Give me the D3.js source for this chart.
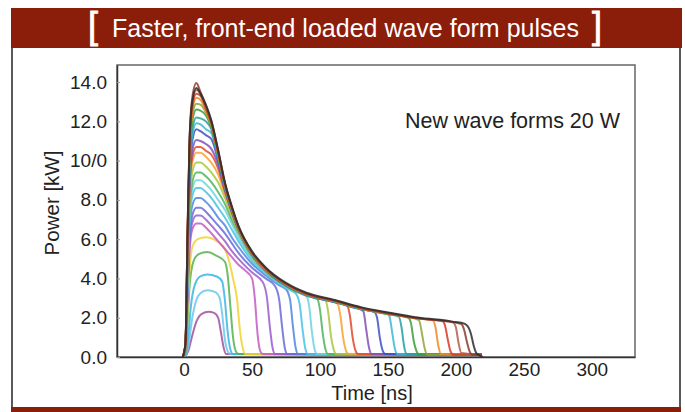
<!DOCTYPE html>
<html>
<head>
<meta charset="utf-8">
<script src="https://cdn.jsdelivr.net/npm/d3@7.9.0/dist/d3.min.js"></script>
<style>
  body { margin: 0; background: #fff; }
  svg { display: block; font-family: "Liberation Sans", Arial, sans-serif; }
</style>
</head>
<body>
<div id="vis"></div>
<script>
const width = 685;
const height = 412;
const plot = { left: 117, right: 635, top: 65, bottom: 357 };

const title = "Faster, front-end loaded wave form pulses";
const note = "New wave forms 20 W";
const xLabel = "Time [ns]";
const yLabel = "Power [kW]";

const xTicks = [0, 50, 100, 150, 200, 250, 300];
const yTicks = [0, 2, 4, 6, 8, 10, 12, 14];
const yTickLabels = ["0.0", "2.0", "4.0", "6.0", "8.0", "10/0", "12.0", "14.0"];

// one colour per pulse, shortest pulse first
const pulseColors = [
  "#a0509c", "#6cc6ec", "#3cb4e4", "#55b24f", "#f2d130", "#c45ac4",
  "#9a5ccc", "#6a6ad8", "#4f86e2", "#48c2e6", "#70d2dc", "#4fb45c",
  "#a8c640", "#f4a532", "#e2482e", "#8250b8", "#3e50c6", "#3cb8d4",
  "#26a0a0", "#3a9e3a", "#92a436", "#f08a22", "#d83a24", "#b06048",
  "#8c3a2c", "#2e2e2e"
];

// [time ns, power kW]
const pulses = [
  [[-1,0],[1,0.05],[3,0.3],[6,1.1],[9,1.8],[13,2.2],[18,2.3],[22,2.25],[25,2.0],[27,1.3],[29,0.5],[31,0.15],[219,0.12]],
  [[-1,0],[1,0.05],[3,0.5],[6,2.0],[9,2.9],[12,3.25],[17,3.4],[23,3.3],[26,3.05],[28,2.2],[30,0.9],[32,0.3],[34,0.15],[219,0.12]],
  [[-1,0],[1,0.1],[3,1.0],[5,2.6],[8,3.7],[12,4.1],[17,4.2],[24,4.1],[28,3.85],[30,2.9],[32,1.3],[34,0.4],[36,0.15],[219,0.12]],
  [[-1,0],[1,0.2],[2.5,1.8],[4,3.6],[7,4.9],[11,5.25],[17,5.35],[24,5.15],[30,4.85],[32,4.2],[34,2.6],[36,1.0],[38,0.3],[40,0.15],[219,0.12]],
  [[-1,0],[1,0.3],[2.5,2.4],[4,4.4],[6,5.6],[10,6.0],[16,6.1],[24,5.9],[30,5.5],[33,4.9],[36,4.0],[39,2.9],[41,1.4],[43,0.5],[45,0.15],[219,0.12]],
  [[-1,0],[1,0.4],[2.5,3.1],[4,5.4],[6,6.5],[9,6.8],[12,6.8],[16,6.6],[20,6.3],[25,5.9],[30,5.5],[35,5.1],[40,4.7],[45,4.4],[50,4.0],[52,3.0],[54,1.2],[56,0.3],[58,0.15],[219,0.12]],
  [[-1,0],[1,0.4],[2.5,3.2],[4,5.8],[6,6.85],[9,7.2],[12,7.2],[16,7.0],[20,6.7],[25,6.3],[30,5.9],[35,5.4],[40,5.0],[50,4.3],[58,3.8],[61,3.0],[63,1.6],[65,0.5],[67,0.15],[219,0.12]],
  [[-1,0],[1,0.4],[2.5,3.4],[4,6.1],[6,7.2],[9,7.6],[12,7.6],[16,7.4],[20,7.1],[25,6.7],[30,6.3],[35,5.8],[40,5.3],[50,4.55],[60,4.0],[67,3.6],[70,2.9],[72,1.6],[74,0.5],[76,0.15],[219,0.12]],
  [[-1,0],[1,0.4],[2.5,3.6],[4,6.5],[6,7.7],[9,8.1],[12,8.1],[16,7.9],[20,7.6],[25,7.1],[30,6.7],[35,6.1],[40,5.6],[50,4.75],[60,4.15],[70,3.65],[75,3.45],[78,2.9],[80,1.6],[82,0.5],[84,0.15],[219,0.12]],
  [[-1,0],[1,0.45],[2.5,3.9],[4,6.9],[6,8.2],[9,8.6],[12,8.6],[16,8.4],[20,8.1],[25,7.6],[30,7.1],[35,6.5],[40,5.9],[50,4.9],[60,4.25],[75,3.5],[82,3.25],[85,2.7],[87,1.5],[89,0.5],[91,0.15],[219,0.12]],
  [[-1,0],[1,0.45],[2.5,4.0],[4,7.2],[6,8.55],[9,9.0],[12,9.0],[16,8.8],[20,8.5],[25,8.0],[30,7.5],[35,6.8],[40,6.1],[50,5.0],[60,4.3],[75,3.55],[90,3.1],[92,2.6],[94,1.3],[96,0.4],[98,0.15],[219,0.12]],
  [[-1,0],[1,0.5],[2.5,4.2],[4,7.5],[6,8.9],[9,9.4],[12,9.4],[16,9.2],[20,8.9],[25,8.4],[30,7.8],[35,7.0],[40,6.3],[50,5.1],[60,4.35],[75,3.6],[90,3.12],[98,2.95],[100,2.4],[102,1.2],[104,0.4],[106,0.15],[219,0.12]],
  [[-1,0],[1,0.5],[2.5,4.5],[4,7.9],[6,9.4],[9,9.9],[12,9.9],[16,9.7],[20,9.4],[25,8.9],[30,8.1],[35,7.2],[40,6.4],[50,5.15],[60,4.4],[75,3.62],[90,3.14],[104,2.88],[106,2.3],[108,1.1],[110,0.4],[112,0.15],[219,0.12]],
  [[-1,0],[1,0.5],[2.5,4.7],[4,8.3],[6,9.9],[9,10.4],[12,10.4],[16,10.2],[20,9.9],[25,9.3],[30,8.3],[35,7.35],[40,6.45],[50,5.2],[60,4.42],[75,3.65],[90,3.16],[110,2.82],[113,2.7],[115,2.1],[117,1.0],[119,0.35],[121,0.15],[219,0.12]],
  [[-1,0],[1,0.55],[2.5,4.8],[4,8.6],[6,10.2],[9,10.7],[12,10.7],[16,10.5],[20,10.3],[25,9.6],[30,8.45],[35,7.4],[40,6.5],[50,5.22],[60,4.44],[75,3.66],[90,3.17],[110,2.83],[120,2.62],[122,2.1],[124,1.0],[126,0.35],[128,0.15],[219,0.12]],
  [[-1,0],[1,0.55],[2.5,5.0],[4,8.8],[6,10.5],[9,11.05],[12,11.0],[16,10.85],[20,10.6],[25,9.8],[30,8.5],[35,7.4],[40,6.48],[50,5.2],[60,4.42],[75,3.63],[90,3.14],[110,2.8],[130,2.42],[132,2.3],[134,1.4],[136,0.5],[138,0.15],[219,0.12]],
  [[-1,0],[1,0.6],[2.5,5.2],[4,9.3],[6,11.0],[9,11.6],[12,11.5],[16,11.3],[20,11.1],[25,10.0],[30,8.6],[35,7.45],[40,6.5],[50,5.22],[60,4.44],[75,3.65],[90,3.15],[110,2.81],[130,2.43],[140,2.29],[142,2.0],[144,1.0],[146,0.35],[148,0.15],[219,0.12]],
  [[-1,0],[1,0.6],[2.5,5.4],[4,9.5],[6,11.3],[9,11.9],[12,11.85],[16,11.6],[20,11.4],[25,10.15],[30,8.65],[35,7.5],[40,6.52],[50,5.23],[60,4.45],[75,3.66],[90,3.16],[110,2.82],[130,2.44],[150,2.17],[151,2.1],[153,1.3],[155,0.45],[157,0.15],[219,0.12]],
  [[-1,0],[1,0.6],[2.5,5.5],[4,9.8],[6,11.6],[9,12.2],[12,12.15],[16,12.0],[20,11.6],[25,10.2],[30,8.7],[35,7.52],[40,6.54],[50,5.25],[60,4.46],[75,3.67],[90,3.17],[110,2.83],[130,2.45],[150,2.18],[158,2.06],[160,1.5],[162,0.5],[164,0.15],[219,0.12]],
  [[-1,0],[1,0.65],[2.5,5.7],[4,10.1],[6,12.0],[9,12.6],[12,12.55],[16,12.3],[20,11.7],[25,10.25],[30,8.72],[35,7.55],[40,6.56],[50,5.27],[60,4.47],[75,3.68],[90,3.18],[110,2.84],[130,2.46],[150,2.19],[165,2.0],[167,1.7],[169,0.8],[171,0.3],[173,0.12],[219,0.12]],
  [[-1,0],[1,0.65],[2.5,5.8],[4,10.3],[6,12.3],[9,12.9],[12,12.85],[16,12.45],[20,11.8],[25,10.3],[30,8.75],[35,7.57],[40,6.58],[50,5.28],[60,4.48],[75,3.69],[90,3.19],[110,2.85],[130,2.47],[150,2.2],[170,1.96],[173,1.85],[175,1.2],[177,0.45],[179,0.12],[219,0.12]],
  [[-1,0],[1,0.65],[2.5,5.9],[4,10.6],[6,12.5],[9,13.2],[12,13.1],[16,12.55],[20,11.85],[25,10.35],[30,8.78],[35,7.58],[40,6.59],[50,5.29],[60,4.49],[75,3.7],[90,3.2],[110,2.86],[130,2.48],[150,2.21],[170,1.97],[183,1.87],[185,1.5],[187,0.6],[189,0.15],[219,0.12]],
  [[-1,0],[1,0.7],[2.5,6.0],[4,10.7],[6,12.7],[9,13.4],[12,13.3],[16,12.65],[20,11.9],[25,10.4],[30,8.8],[35,7.6],[40,6.6],[50,5.3],[60,4.5],[75,3.71],[90,3.21],[110,2.87],[130,2.49],[150,2.22],[170,1.98],[190,1.83],[192,1.6],[194,0.9],[196,0.3],[198,0.12],[219,0.12]],
  [[-1,0],[1,0.7],[2.5,6.1],[4,10.9],[6,12.9],[9,13.6],[12,13.45],[16,12.7],[20,11.95],[25,10.45],[30,8.82],[35,7.62],[40,6.62],[50,5.32],[60,4.51],[75,3.72],[90,3.22],[110,2.88],[130,2.5],[150,2.23],[170,1.99],[190,1.84],[198,1.76],[200,1.5],[202,0.7],[204,0.2],[219,0.12]],
  [[-1,0],[1,0.7],[2.5,6.3],[4,11.1],[6,13.2],[9,13.95],[12,13.5],[16,12.8],[20,12.0],[25,10.5],[30,8.85],[35,7.65],[40,6.64],[50,5.34],[60,4.52],[75,3.73],[90,3.23],[110,2.89],[130,2.51],[150,2.24],[170,2.0],[190,1.85],[200,1.75],[204,1.68],[206,1.4],[208,0.8],[210,0.3],[212,0.12],[219,0.12]],
  [[-1,0],[1,0.7],[2.5,6.2],[4,11.0],[6,13.0],[9,13.7],[12,13.4],[16,12.85],[20,12.05],[25,10.55],[30,8.9],[35,7.7],[40,6.68],[50,5.38],[60,4.56],[75,3.77],[90,3.27],[110,2.92],[130,2.54],[150,2.27],[170,2.03],[190,1.88],[200,1.78],[204,1.74],[208,1.62],[211,1.2],[213,0.6],[215,0.2],[217,0.1],[220,0]]
];

const xScale = d3.scaleLinear().domain([-49.4, 331.8]).range([plot.left, plot.right]);
const yScale = d3.scaleLinear().domain([0, 14.87]).range([plot.bottom, plot.top]);

const svg = d3
  .select("#vis")
  .append("svg")
  .attr("width", width)
  .attr("height", height);

// Header bar
svg.append("rect")
  .attr("x", 11).attr("y", 8)
  .attr("width", 671).attr("height", 40)
  .attr("fill", "#8b1d0b");

svg.append("text")
  .attr("x", 112).attr("y", 37)
  .attr("fill", "#fff")
  .attr("font-size", 25)
  .text(title);

svg.append("text")
  .attr("x", 88).attr("y", 38)
  .attr("fill", "#fff")
  .attr("font-size", 36)
  .attr("stroke", "#fff")
  .attr("stroke-width", 0.8)
  .text("[");
svg.append("text")
  .attr("x", 592).attr("y", 38)
  .attr("fill", "#fff")
  .attr("font-size", 36)
  .attr("stroke", "#fff")
  .attr("stroke-width", 0.8)
  .text("]");

// Frame sides and footer stripe
svg.append("line")
  .attr("x1", 12).attr("x2", 12).attr("y1", 48).attr("y2", 408)
  .attr("stroke", "#222").attr("stroke-width", 1.5);
svg.append("line")
  .attr("x1", 680).attr("x2", 680).attr("y1", 48).attr("y2", 408)
  .attr("stroke", "#222").attr("stroke-width", 1.5);
svg.append("rect")
  .attr("x", 11).attr("y", 407)
  .attr("width", 670).attr("height", 5)
  .attr("fill", "#8b1d0b");

// Plot box
svg.append("rect")
  .attr("x", plot.left).attr("y", plot.top)
  .attr("width", plot.right - plot.left)
  .attr("height", plot.bottom - plot.top)
  .attr("fill", "#fff")
  .attr("stroke", "#666")
  .attr("stroke-width", 1.5);

// Pulses
const line = d3
  .line()
  .x((d) => xScale(d[0]))
  .y((d) => yScale(d[1]))
  .curve(d3.curveMonotoneX);

svg.append("g")
  .attr("id", "pulses")
  .selectAll("path")
  .data(pulses)
  .enter()
  .append("path")
  .attr("fill", "none")
  .attr("stroke", (d, i) => pulseColors[i])
  .attr("stroke-width", 2)
  .attr("stroke-opacity", 0.85)
  .attr("stroke-linejoin", "round")
  .attr("d", line);

// Axes
const xAxis = svg.append("g")
  .attr("transform", `translate(0,${plot.bottom})`)
  .call(d3.axisBottom(xScale).tickValues(xTicks).tickSize(0).tickPadding(6));
xAxis.select(".domain").attr("stroke", "#333").attr("stroke-width", 1.5);
xAxis.selectAll("text").attr("font-size", 19).attr("fill", "#222")
  .attr("font-family", "Liberation Sans, Arial, sans-serif");

const yAxis = svg.append("g")
  .attr("transform", `translate(${plot.left},0)`)
  .call(
    d3.axisLeft(yScale)
      .tickValues(yTicks)
      .tickFormat((d, i) => yTickLabels[i])
      .tickSizeInner(-3)
      .tickSizeOuter(0)
      .tickPadding(10)
  );
yAxis.select(".domain").attr("stroke", "#333").attr("stroke-width", 1.5);
yAxis.selectAll(".tick line").attr("stroke", "#999");
yAxis.selectAll("text").attr("font-size", 19).attr("fill", "#222")
  .attr("font-family", "Liberation Sans, Arial, sans-serif");

// Labels
svg.append("text")
  .attr("x", 372).attr("y", 400)
  .attr("text-anchor", "middle")
  .attr("font-size", 20)
  .attr("fill", "#222")
  .text(xLabel);

svg.append("text")
  .attr("transform", "translate(59,203) rotate(-90)")
  .attr("text-anchor", "middle")
  .attr("font-size", 20.5)
  .attr("fill", "#222")
  .text(yLabel);

svg.append("text")
  .attr("x", 405).attr("y", 128)
  .attr("font-size", 21.5)
  .attr("fill", "#222")
  .text(note);
</script>
</body>
</html>
